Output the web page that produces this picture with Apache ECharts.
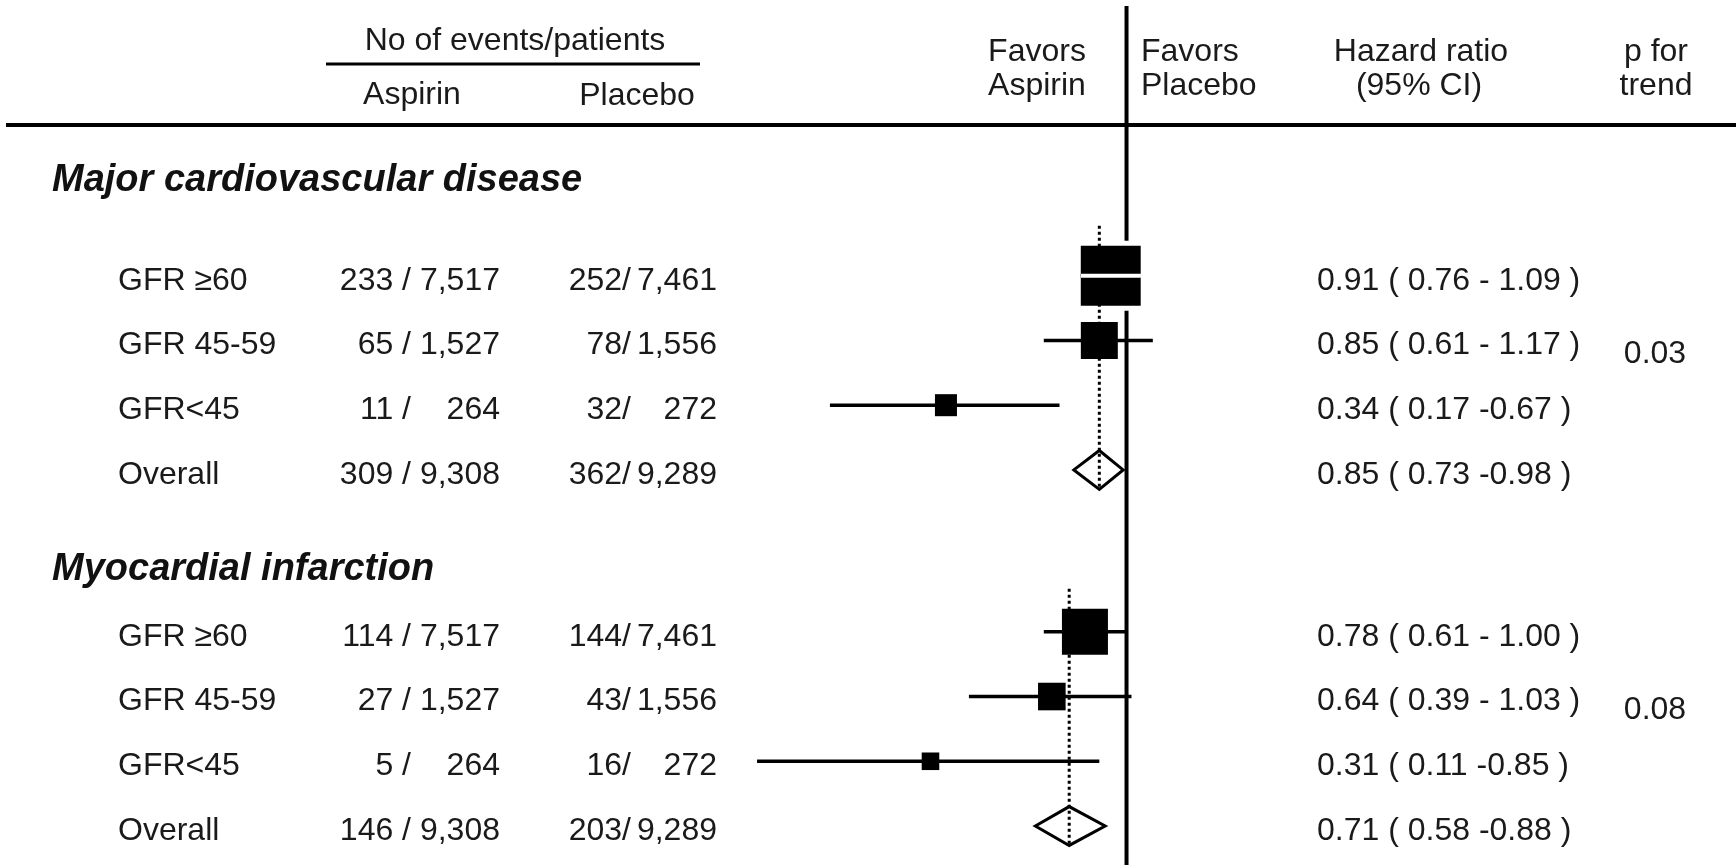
<!DOCTYPE html>
<html><head><meta charset="utf-8">
<script src="https://cdn.jsdelivr.net/npm/echarts@6/dist/echarts.min.js"></script>
<style>html,body{margin:0;padding:0;background:#fff}#chart{width:1736px;height:865px}</style>
</head><body><div id="chart"></div>
<script>
// ---------------- data ----------------
const groupTitles = ['Major cardiovascular disease', 'Myocardial infarction'];
const subgroupLabels = ['GFR \u226560', 'GFR 45-59', 'GFR<45', 'Overall'];
const aspirinPatients = [7517, 1527, 264, 9308];
const placeboPatients = [7461, 1556, 272, 9289];
const aspirinEventsMCVD = [233, 65, 11, 309];
const placeboEventsMCVD = [252, 78, 32, 362];
const aspirinEventsMI = [114, 27, 5, 146];
const placeboEventsMI = [144, 43, 16, 203];
const hrMCVD = [0.91, 0.85, 0.34, 0.85];
const loMCVD = [0.76, 0.61, 0.17, 0.73];
const hiMCVD = [1.09, 1.17, 0.67, 0.98];
const hrMI = [0.78, 0.64, 0.31, 0.71];
const loMI = [0.61, 0.39, 0.11, 0.58];
const hiMI = [1.00, 1.03, 0.85, 0.88];
const pTrend = ['0.03', '0.08'];
const headerEvents = 'No of events/patients';
const headerArms = ['Aspirin', 'Placebo'];
const headerFavorsAspirin = ['Favors', 'Aspirin'];
const headerFavorsPlacebo = ['Favors', 'Placebo'];
const headerHR = ['Hazard ratio', '(95% CI)'];
const headerP = ['p for', 'trend'];

// ---------------- layout / style ----------------
const FONT = '"Liberation Sans", Arial, Helvetica, sans-serif';
const FS = 32;
const TXT = '#1a1a1a';
const COL = { title: 52, label: 118, aspEvRight: 411, aspNRight: 500, plaEvRight: 631, plaNRight: 717, hrLeft: 1317, pCenter: 1655 };
const SPACER_AFTER_TITLE = [2, 1];
const TEXT_DY = 5, TITLE_DY = 2;

function fmtInt(n) { return String(n).replace(/\B(?=(\d{3})+(?!\d))/g, ','); }
function fmtHR(h, l, u) { return h.toFixed(2) + ' ( ' + l.toFixed(2) + (u >= 1 ? ' - ' : ' -') + u.toFixed(2) + ' )'; }

const groups = [
  { title: groupTitles[0], aEv: aspirinEventsMCVD, pEv: placeboEventsMCVD, hr: hrMCVD, lo: loMCVD, hi: hiMCVD, p: pTrend[0], idx: [] },
  { title: groupTitles[1], aEv: aspirinEventsMI, pEv: placeboEventsMI, hr: hrMI, lo: loMI, hi: hiMI, p: pTrend[1], idx: [] }
];
const rows = [];
groups.forEach((g, gi) => {
  rows.push({ kind: 'title', g: gi });
  for (let k = 0; k < SPACER_AFTER_TITLE[gi]; k++) rows.push({ kind: 'blank' });
  subgroupLabels.forEach((lab, i) => {
    g.idx[i] = rows.length;
    rows.push({ kind: 'sub', g: gi, i: i });
    if (i < subgroupLabels.length - 1) rows.push({ kind: 'blank' });
  });
  if (gi < groups.length - 1) { rows.push({ kind: 'blank' }); rows.push({ kind: 'blank' }); }
});
const rowKeys = rows.map((r, i) => 'row' + i);

const last = subgroupLabels.length - 1;
const boxData = [], diamondData = [], dottedData = [];
groups.forEach(g => {
  for (let i = 0; i < last; i++) boxData.push([g.hr[i], g.idx[i], g.lo[i], g.hi[i]]);
  diamondData.push([g.hr[last], g.idx[last], g.lo[last], g.hi[last]]);
  dottedData.push([g.hr[last], g.idx[0], g.idx[last], g.lo[0], g.hi[0]]);
});

function bandOf(api) { return api.coord([1, 1])[1] - api.coord([1, 0])[1]; }
function boxSide(lo, hi) { const se = (Math.log(hi) - Math.log(lo)) / 3.92; return 8.5 + 4.73 / se; }

function txt(x, y, text, align, extra) {
  return { type: 'text', x: x, y: y, style: Object.assign({ text: text, font: FS + 'px ' + FONT, fill: TXT, align: align, verticalAlign: 'middle' }, extra || {}) };
}
function htxt(x, y, text, align) {
  return { type: 'text', x: x, y: y, style: { text: text, font: FS + 'px ' + FONT, fill: TXT, align: align, verticalAlign: 'middle' } };
}

const chart = echarts.init(document.getElementById('chart'));
chart.setOption({
  animation: false,
  backgroundColor: '#fff',
  grid: { left: 741.1, right: 541.6, top: 162.4, bottom: 22.8, outerBoundsMode: 'none' },
  xAxis: { type: 'log', logBase: 10, min: 0.1, max: 1.5, show: false },
  yAxis: { type: 'category', data: rowKeys, inverse: true, show: false },
  graphic: [
    htxt(515, 41, headerEvents, 'center'),
    { type: 'line', shape: { x1: 326, y1: 64, x2: 700, y2: 64 }, style: { stroke: '#000', lineWidth: 3 } },
    htxt(412, 95, headerArms[0], 'center'),
    htxt(637, 96, headerArms[1], 'center'),
    htxt(1037, 52, headerFavorsAspirin[0], 'center'),
    htxt(1037, 86, headerFavorsAspirin[1], 'center'),
    htxt(1141, 52, headerFavorsPlacebo[0], 'left'),
    htxt(1141, 86, headerFavorsPlacebo[1], 'left'),
    htxt(1421, 52, headerHR[0], 'center'),
    htxt(1419, 86, headerHR[1], 'center'),
    htxt(1656, 52, headerP[0], 'center'),
    htxt(1656, 86, headerP[1], 'center'),
    { type: 'line', shape: { x1: 6, y1: 125, x2: 1736, y2: 125 }, style: { stroke: '#000', lineWidth: 4 } }
  ],
  series: [
    { // line of no effect (HR = 1)
      type: 'custom', clip: false, z: 1, data: [[1, 0]], encode: { x: 0, y: 1 },
      renderItem: (params, api) => {
        const x = api.coord([api.value(0), 0])[0];
        return { type: 'line', shape: { x1: x, y1: 6, x2: x, y2: 865 }, style: { stroke: '#000', lineWidth: 4 } };
      }
    },
    { // white halo around boxes (interrupts the reference line)
      type: 'custom', clip: false, z: 2, data: boxData, encode: { x: 0, y: 1 },
      renderItem: (params, api) => {
        const p = api.coord([api.value(0), api.value(1)]);
        const s = boxSide(api.value(2), api.value(3)) + 10;
        return { type: 'rect', shape: { x: p[0] - s / 2, y: p[1] - s / 2, width: s, height: s }, style: { fill: '#fff' } };
      }
    },
    { // dotted line at overall estimate
      type: 'custom', clip: false, z: 3, data: dottedData, encode: { x: 0, y: 1 },
      renderItem: (params, api) => {
        const band = bandOf(api);
        const x = api.coord([api.value(0), api.value(1)])[0];
        const yTop = api.coord([1, api.value(1)])[1] - boxSide(api.value(3), api.value(4)) / 2 - 20;
        const yBot = api.coord([1, api.value(2)])[1] + 0.6 * band;
        return { type: 'line', shape: { x1: x, y1: yTop, x2: x, y2: yBot }, style: { stroke: '#000', lineWidth: 3, lineDash: [3, 3] } };
      }
    },
    { // subgroup boxes + CI
      type: 'custom', clip: false, z: 4, data: boxData, encode: { x: 0, y: 1 },
      renderItem: (params, api) => {
        const yv = api.value(1);
        const p = api.coord([api.value(0), yv]);
        const xl = api.coord([api.value(2), yv])[0];
        const xh = api.coord([api.value(3), yv])[0];
        const s = boxSide(api.value(2), api.value(3));
        const inside = (p[0] - s / 2 <= xl + 2) && (p[0] + s / 2 >= xh - 2);
        const children = [
          { type: 'line', shape: { x1: xl, y1: p[1], x2: xh, y2: p[1] }, style: { stroke: '#000', lineWidth: 3.5 } },
          { type: 'rect', shape: { x: p[0] - s / 2, y: p[1] - s / 2, width: s, height: s }, style: { fill: '#000' } }
        ];
        if (inside) children.push({ type: 'line', shape: { x1: xl, y1: p[1], x2: xh, y2: p[1] }, style: { stroke: '#fff', lineWidth: 4 } });
        return { type: 'group', children: children };
      }
    },
    { // overall diamonds
      type: 'custom', clip: false, z: 5, data: diamondData, encode: { x: 0, y: 1 },
      renderItem: (params, api) => {
        const band = bandOf(api);
        const yv = api.value(1);
        const p = api.coord([api.value(0), yv]);
        const xl = api.coord([api.value(2), yv])[0];
        const xh = api.coord([api.value(3), yv])[0];
        const h = 0.6 * band;
        return { type: 'polygon', shape: { points: [[xl, p[1]], [p[0], p[1] - h], [xh, p[1]], [p[0], p[1] + h]] }, style: { fill: 'none', stroke: '#000', lineWidth: 3 } };
      }
    },
    { // table text
      type: 'custom', clip: false, z: 6, data: rows.map((r, i) => [1, i]), encode: { x: 0, y: 1 },
      renderItem: (params, api) => {
        const r = rows[params.dataIndex];
        const yc = api.coord([1, api.value(1)])[1];
        const band = bandOf(api);
        if (r.kind === 'title') {
          return txt(COL.title, yc + TITLE_DY, groups[r.g].title, 'left', { font: 'italic bold 38px ' + FONT, fill: '#111' });
        }
        if (r.kind !== 'sub') return null;
        const y = yc + TEXT_DY;
        const g = groups[r.g], i = r.i;
        const ch = [
          txt(COL.label, y, subgroupLabels[i], 'left'),
          txt(COL.aspEvRight, y, g.aEv[i] + ' /', 'right'),
          txt(COL.aspNRight, y, fmtInt(aspirinPatients[i]), 'right'),
          txt(COL.plaEvRight, y, g.pEv[i] + '/', 'right'),
          txt(COL.plaNRight, y, fmtInt(placeboPatients[i]), 'right'),
          txt(COL.hrLeft, y, fmtHR(g.hr[i], g.lo[i], g.hi[i]), 'left')
        ];
        if (i === 1) ch.push(txt(COL.pCenter, yc + 0.42 * band, g.p, 'center'));
        return { type: 'group', children: ch };
      }
    }
  ]
});
</script>
</body></html>
